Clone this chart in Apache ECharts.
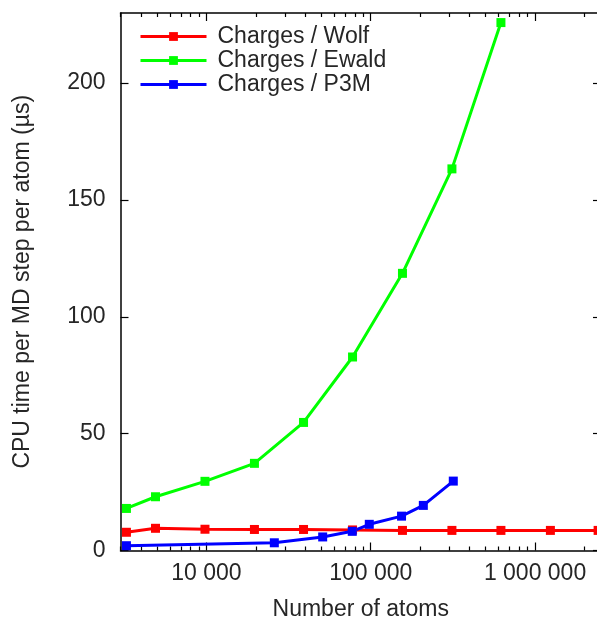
<!DOCTYPE html>
<html>
<head>
<meta charset="utf-8">
<script src="https://cdn.jsdelivr.net/npm/echarts@6/dist/echarts.min.js"></script>
<style>
  html, body { margin: 0; padding: 0; background: #fff; overflow: hidden; }
  #chart { width: 597px; height: 618px; }
</style>
</head>
<body>
<div id="chart"></div>
<script>
// System sizes (number of atoms) and CPU cost per MD step per atom (µs)
const wolfAtoms  = [3260, 4900, 9800, 19600, 39000, 77500, 156000, 312000, 620000, 1240000, 2420000];
const wolfTime   = [7.8, 9.5, 9.1, 9.0, 9.0, 8.8, 8.6, 8.6, 8.6, 8.6, 8.6];

const ewaldAtoms = [3260, 4900, 9800, 19600, 39000, 77500, 156000, 312000, 620000];
const ewaldTime  = [18.0, 23.0, 29.6, 37.3, 54.8, 82.8, 118.6, 163.3, 225.9];

const p3mAtoms   = [3260, 25900, 51000, 77200, 98000, 154000, 209000, 318000];
const p3mTime    = [2.05, 3.3, 5.8, 8.2, 11.2, 14.7, 19.3, 29.7];

const seriesNames = ['Charges / Wolf', 'Charges / Ewald', 'Charges / P3M'];
const xMajorTicks = [10000, 100000, 1000000];
const yTicks = [0, 50, 100, 150, 200];

// minor ticks of the log axis: 2..9 times each power of ten
const xMinorTicks = [];
for (let p = 3; p <= 6; p++) {
  for (let m = 2; m <= 9; m++) xMinorTicks.push(m * Math.pow(10, p));
}

const FONT = '"Liberation Sans", Arial, Helvetica, sans-serif';
const TEXT = '#262626';
const X_MIN = 3000, X_MAX = 2520000;
const LINE_W = 3;

const pairs = (xs, ys) => xs.map((x, i) => [x, ys[i]]);
const spaced = v => String(Math.round(v)).replace(/\B(?=(\d{3})+(?!\d))/g, ' ');

function xAxisDef(position, major, showLine, withLabels) {
  return {
    type: 'log', logBase: 10, min: X_MIN, max: X_MAX, position: position,
    name: withLabels ? 'Number of atoms' : '',
    nameLocation: 'middle', nameGap: 48,
    nameTextStyle: { fontFamily: FONT, fontSize: 23, color: TEXT },
    axisLine: { show: showLine, onZero: false, lineStyle: { color: '#000', width: 1.5 } },
    axisTick: {
      show: true, inside: true, length: major ? 8 : 4,
      customValues: major ? xMajorTicks : xMinorTicks,
      lineStyle: { color: '#000', width: 1.2 }
    },
    axisLabel: {
      show: withLabels, customValues: xMajorTicks, margin: 12,
      fontFamily: FONT, fontSize: 23, color: TEXT, formatter: spaced
    },
    splitLine: { show: false }, minorTick: { show: false }
  };
}

function yAxisDef(position, withLabels) {
  return {
    type: 'value', min: 0, max: 230, interval: 50, position: position,
    name: withLabels ? 'CPU time per MD step per atom (µs)' : '',
    nameLocation: 'middle', nameGap: 86, nameRotate: 90,
    nameTextStyle: { fontFamily: FONT, fontSize: 23, color: TEXT },
    axisLine: { show: true, lineStyle: { color: '#000', width: 1.5 } },
    axisTick: { show: true, inside: true, length: 8, customValues: yTicks,
      lineStyle: { color: '#000', width: 1.2 } },
    axisLabel: { show: withLabels, customValues: yTicks, margin: 15,
      fontFamily: FONT, fontSize: 23, color: TEXT },
    splitLine: { show: false }
  };
}

function lineSeries(name, color, data) {
  return {
    name: name, type: 'line', xAxisIndex: 0, yAxisIndex: 0, data: data,
    symbol: 'rect', symbolSize: 9, showSymbol: true,
    lineStyle: { color: color, width: LINE_W },
    itemStyle: { color: color },
    emphasis: { disabled: true }, animation: false
  };
}

const chart = echarts.init(document.getElementById('chart'), null, { renderer: 'canvas' });
chart.setOption({
  animation: false,
  backgroundColor: '#fff',
  grid: { left: 120.5, right: -4, top: 13, bottom: 67.5, containLabel: false, outerBoundsMode: 'none' },
  legend: {
    data: seriesNames, orient: 'vertical', left: 134, top: 20,
    itemWidth: 66, itemHeight: 11, itemGap: 1,
    lineStyle: { width: LINE_W },
    textStyle: { fontFamily: FONT, fontSize: 23, color: TEXT, lineHeight: 23, padding: [0, 0, 0, 6] }
  },
  xAxis: [
    xAxisDef('bottom', true, true, true),
    xAxisDef('bottom', false, false, false),
    xAxisDef('top', true, true, false),
    xAxisDef('top', false, false, false)
  ],
  yAxis: [
    yAxisDef('left', true),
    yAxisDef('right', false)
  ],
  series: [
    lineSeries(seriesNames[0], '#ff0000', pairs(wolfAtoms, wolfTime)),
    lineSeries(seriesNames[1], '#00ff00', pairs(ewaldAtoms, ewaldTime)),
    lineSeries(seriesNames[2], '#0000ff', pairs(p3mAtoms, p3mTime))
  ]
});
</script>
</body>
</html>
